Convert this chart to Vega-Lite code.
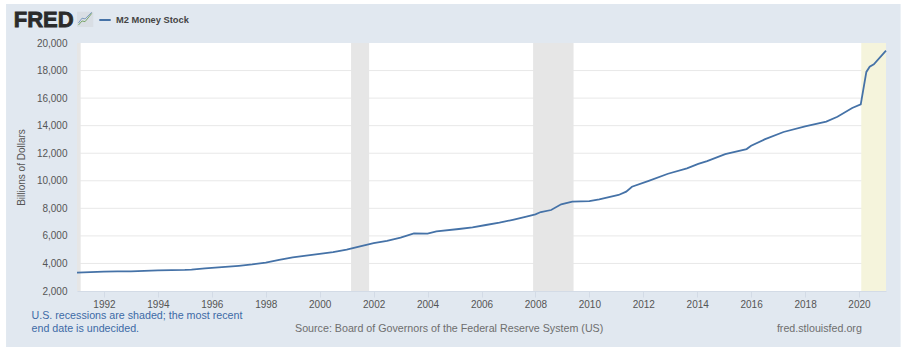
{
"$schema":"https://vega.github.io/schema/vega-lite/v6.json",
"width":809,"height":248,
"autosize":"none",
"padding":{"left":77,"top":43,"right":20,"bottom":63},
"background":"white",
"config":{"view":{"stroke":null,"fill":null},"font":"Liberation Sans"},
"datasets":{
"panel":[{"a":"1988-05-15","b":"2021-07-18","lo":-2064,"hi":22827}],
"plot":[{"a":"1991-01-01","b":"2021-01-01","lo":2000,"hi":20000}],
"grid":[{"v":4000},{"v":6000},{"v":8000},{"v":10000},{"v":12000},{"v":14000},{"v":16000},{"v":18000}],
"rec":[{"a":"1991-01-01","b":"1991-02-20","k":"r"},{"a":"2001-03-01","b":"2001-11-01","k":"r"},{"a":"2007-12-01","b":"2009-06-01","k":"r"},{"a":"2020-02-01","b":"2021-01-01","k":"u"}],
"m2":[
{"d":"1991-01-01","v":3330},{"d":"1991-07-01","v":3370},{"d":"1992-01-01","v":3400},{"d":"1992-07-01","v":3420},{"d":"1993-01-01","v":3430},{"d":"1993-07-01","v":3460},{"d":"1994-01-01","v":3500},{"d":"1994-07-01","v":3520},{"d":"1995-01-01","v":3530},{"d":"1995-04-01","v":3550},{"d":"1995-10-01","v":3640},{"d":"1996-01-01","v":3680},{"d":"1996-07-01","v":3750},{"d":"1997-01-01","v":3830},{"d":"1997-07-01","v":3930},{"d":"1998-01-01","v":4060},{"d":"1998-07-01","v":4260},{"d":"1999-01-01","v":4440},{"d":"1999-07-01","v":4570},{"d":"2000-01-01","v":4690},{"d":"2000-07-01","v":4820},{"d":"2001-01-01","v":5000},{"d":"2001-07-01","v":5240},{"d":"2002-01-01","v":5480},{"d":"2002-07-01","v":5630},{"d":"2003-01-01","v":5880},{"d":"2003-07-01","v":6180},{"d":"2004-01-01","v":6165},{"d":"2004-05-01","v":6330},{"d":"2005-03-01","v":6500},{"d":"2005-09-01","v":6610},{"d":"2006-03-01","v":6790},{"d":"2006-09-01","v":6960},{"d":"2007-03-01","v":7170},{"d":"2007-09-01","v":7400},{"d":"2008-01-01","v":7566},{"d":"2008-03-15","v":7733},{"d":"2008-08-01","v":7878},{"d":"2008-12-15","v":8290},{"d":"2009-05-15","v":8480},{"d":"2010-01-01","v":8530},{"d":"2010-05-15","v":8650},{"d":"2011-02-01","v":8970},{"d":"2011-05-15","v":9210},{"d":"2011-08-01","v":9570},{"d":"2012-03-15","v":10000},{"d":"2012-12-01","v":10510},{"d":"2013-08-15","v":10900},{"d":"2014-01-15","v":11220},{"d":"2014-05-15","v":11430},{"d":"2015-01-15","v":11940},{"d":"2015-11-01","v":12300},{"d":"2016-01-01","v":12540},{"d":"2016-07-01","v":13000},{"d":"2017-03-15","v":13540},{"d":"2018-01-01","v":13950},{"d":"2018-10-15","v":14290},{"d":"2019-03-15","v":14650},{"d":"2019-10-01","v":15280},{"d":"2020-01-25","v":15550},{"d":"2020-04-10","v":17900},{"d":"2020-05-25","v":18280},{"d":"2020-07-20","v":18450},{"d":"2021-01-01","v":19440}],
"notes":[
{"d":"1989-04-25","v":186,"t":"U.S. recessions are shaded; the most recent","c":"#3d6aa6","s":10.7},
{"d":"1989-04-25","v":-757,"t":"end date is undecided.","c":"#3d6aa6","s":10.7},
{"d":"1999-02-01","v":-757,"t":"Source: Board of Governors of the Federal Reserve System (US)","c":"#6e6e6e","s":10.7},
{"d":"2016-12-15","v":-757,"t":"fred.stlouisfed.org","c":"#6e6e6e","s":10.7}],
"logo":[{"d":"1988-08-27","v":21667,"t":"FRED","c":"#2b2b2b","s":22}],
"iconBox":[{"a":"1991-01-01","b":"1991-08-10","lo":21158,"hi":22268}],
"iconA":[{"d":"1991-01-20","v":21300},{"d":"1991-03-10","v":21600},{"d":"1991-04-20","v":21550},{"d":"1991-07-20","v":22150}],
"iconB":[{"d":"1991-01-20","v":21450},{"d":"1991-03-10","v":21800},{"d":"1991-04-20","v":21750},{"d":"1991-07-20","v":22230}]
},
"data":{"name":"m2"},
"layer":[
{"data":{"name":"panel"},"mark":{"type":"rect","fill":"#e1e8f0","clip":false},
 "encoding":{"x":{"field":"a","type":"temporal","scale":{"domain":["1991-01-01","2021-01-01"],"nice":false},
   "axis":{"zindex":1,"title":null,"grid":false,"format":"%Y","tickCount":{"interval":"year","step":2},"labelFontSize":10,"labelColor":"#555555","labelPadding":2,"tickColor":"#d3dbe6","tickSize":6,"domainColor":"#d3dbe6","labelFont":"Liberation Sans"}},
  "x2":{"field":"b"},
  "y":{"field":"lo","type":"quantitative","scale":{"domain":[2000,20000],"nice":false,"zero":false},
   "axis":{"zindex":1,"title":"Billions of Dollars","titleFontSize":10,"titleFontWeight":"normal","titleColor":"#555555","titlePadding":10,"grid":false,"values":[2000,4000,6000,8000,10000,12000,14000,16000,18000,20000],"tickCount":20,"format":",.0f","labelOverlap":false,"labelFontSize":10,"labelColor":"#555555","ticks":false,"labelPadding":10,"domain":false}},
  "y2":{"field":"hi"}}},
{"data":{"name":"plot"},"mark":{"type":"rect","fill":"white"},
 "encoding":{"x":{"field":"a","type":"temporal"},"x2":{"field":"b"},"y":{"field":"lo","type":"quantitative"},"y2":{"field":"hi"}}},
{"data":{"name":"grid"},"mark":{"type":"rule","stroke":"#e8e8e8","strokeWidth":1},
 "encoding":{"y":{"field":"v","type":"quantitative"}}},
{"data":{"name":"rec"},"mark":{"type":"rect"},
 "encoding":{"x":{"field":"a","type":"temporal"},"x2":{"field":"b"},
  "fill":{"field":"k","type":"nominal","scale":{"domain":["r","u"],"range":["#e6e6e6","#f5f4dc"]},"legend":null}}},
{"mark":{"type":"line","strokeWidth":1.8,"interpolate":"linear","clip":false},
 "encoding":{"x":{"field":"d","type":"temporal"},"y":{"field":"v","type":"quantitative"},
  "stroke":{"datum":"M2 Money Stock","type":"nominal","scale":{"domain":["M2 Money Stock"],"range":["#4572a7"]},
   "legend":{"title":null,"orient":"none","legendX":21,"legendY":-30,"zindex":1,"symbolType":"stroke","symbolSize":130,"symbolStrokeWidth":2,"labelFontSize":9.3,"labelFontWeight":"bold","labelColor":"#444444","labelFont":"Liberation Sans"}}}},
{"data":{"name":"notes"},"mark":{"type":"text","baseline":"middle","align":"left","clip":false},
 "encoding":{"x":{"field":"d","type":"temporal"},"y":{"field":"v","type":"quantitative"},"text":{"field":"t"},
  "color":{"field":"c","type":"nominal","scale":null},"size":{"field":"s","type":"quantitative","scale":null}}},
{"data":{"name":"logo"},"mark":{"type":"text","baseline":"middle","align":"left","fontWeight":"bold","font":"Liberation Sans","stroke":"#2b2b2b","strokeWidth":0.8,"clip":false},
 "encoding":{"x":{"field":"d","type":"temporal"},"y":{"field":"v","type":"quantitative"},"text":{"field":"t"},
  "color":{"field":"c","type":"nominal","scale":null},"size":{"field":"s","type":"quantitative","scale":null}}},
{"data":{"name":"iconBox"},"mark":{"type":"rect","fill":"#d9dee4","clip":false},
 "encoding":{"x":{"field":"a","type":"temporal"},"x2":{"field":"b"},"y":{"field":"lo","type":"quantitative"},"y2":{"field":"hi"}}},
{"data":{"name":"iconA"},"mark":{"type":"line","stroke":"#7aa66a","strokeWidth":1,"clip":false},
 "encoding":{"x":{"field":"d","type":"temporal"},"y":{"field":"v","type":"quantitative"}}},
{"data":{"name":"iconB"},"mark":{"type":"line","stroke":"#7e9cc0","strokeWidth":1,"clip":false},
 "encoding":{"x":{"field":"d","type":"temporal"},"y":{"field":"v","type":"quantitative"}}}
]
}
